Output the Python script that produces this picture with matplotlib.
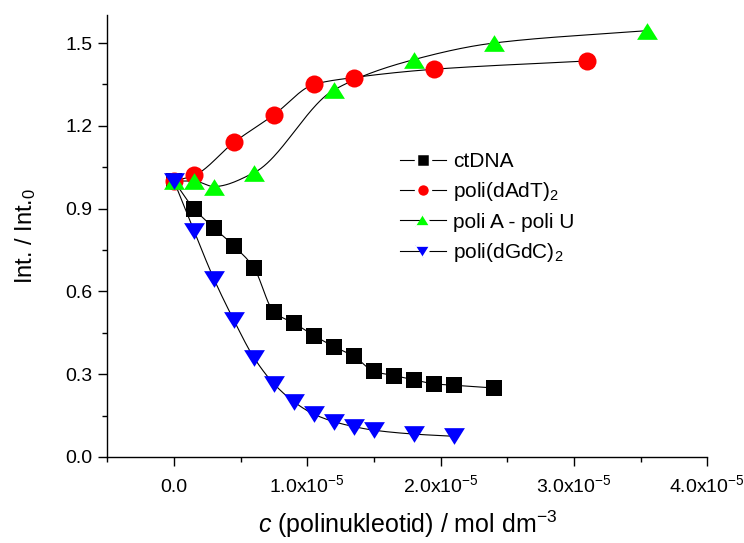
import numpy as np
import matplotlib
matplotlib.use('Agg')
import matplotlib.pyplot as plt
from matplotlib.lines import Line2D
from matplotlib.ticker import MultipleLocator, FuncFormatter

# ---- data (x in 1e-5 mol dm^-3) ----
ct_x = [0.0, 0.15, 0.30, 0.45, 0.60, 0.75, 0.90, 1.05, 1.20, 1.35, 1.50, 1.65, 1.80, 1.95, 2.10, 2.40]
ct_y = [1.00, 0.90, 0.83, 0.765, 0.685, 0.525, 0.485, 0.44, 0.40, 0.365, 0.31, 0.295, 0.28, 0.265, 0.26, 0.25]

at_x = [0.0, 0.15, 0.45, 0.75, 1.05, 1.35, 1.95, 3.10]
at_y = [1.00, 1.02, 1.14, 1.24, 1.35, 1.375, 1.405, 1.435]

au_x = [0.0, 0.15, 0.30, 0.60, 1.20, 1.80, 2.40, 3.55]
au_y = [1.00, 1.00, 0.98, 1.03, 1.33, 1.44, 1.50, 1.545]

gc_x = [0.0, 0.15, 0.30, 0.45, 0.60, 0.75, 0.90, 1.05, 1.20, 1.35, 1.50, 1.80, 2.10]
gc_y = [1.00, 0.82, 0.645, 0.495, 0.36, 0.265, 0.20, 0.155, 0.128, 0.11, 0.097, 0.083, 0.075]

labels = ['ctDNA', r'poli(dAdT)$_2$', 'poli A - poli U', r'poli(dGdC)$_2$']


def pchip(x, y, n=300):
    """Monotone cubic connection line between points (like Origin spline)."""
    x = np.asarray(x, float)
    y = np.asarray(y, float)
    h = np.diff(x)
    d = np.diff(y) / h
    m = np.zeros_like(y)
    for k in range(1, len(x) - 1):
        if d[k - 1] * d[k] > 0:
            w1 = 2 * h[k] + h[k - 1]
            w2 = h[k] + 2 * h[k - 1]
            m[k] = (w1 + w2) / (w1 / d[k - 1] + w2 / d[k])
    m[0] = d[0]
    m[-1] = d[-1]
    xs = np.linspace(x[0], x[-1], n)
    idx = np.clip(np.searchsorted(x, xs) - 1, 0, len(x) - 2)
    t = (xs - x[idx]) / h[idx]
    h00 = 2 * t**3 - 3 * t**2 + 1
    h10 = t**3 - 2 * t**2 + t
    h01 = -2 * t**3 + 3 * t**2
    h11 = t**3 - t**2
    ys = h00 * y[idx] + h10 * h[idx] * m[idx] + h01 * y[idx + 1] + h11 * h[idx] * m[idx + 1]
    return xs, ys


plt.rcParams.update({
    'font.family': 'Liberation Sans',
    'mathtext.fontset': 'custom',
    'mathtext.rm': 'Liberation Sans',
    'mathtext.it': 'Liberation Sans:italic',
    'font.size': 14,
    'axes.linewidth': 1.0,
})

# wide, flat triangles like the Origin symbols
tri_up = [(-1, -0.8), (1, -0.8), (0, 0.8)]
tri_dn = [(-1, 0.8), (1, 0.8), (0, -0.8)]

fig = plt.figure(figsize=(7.44, 5.43), dpi=100)
ax = fig.add_axes([0.1442, 0.1584, 0.8065, 0.8132])

series = [
    (ct_x, ct_y, 's', '#000000', 11.5, 7.0),
    (at_x, at_y, 'o', '#ff0000', 13, 7.5),
    (au_x, au_y, tri_up, '#00ff00', 15, 9.0),
    (gc_x, gc_y, tri_dn, '#0000ff', 15, 9.0),
]

for i, (x, y, mk, col, ms, _) in enumerate(series):
    xs, ys = pchip(x, y)
    ax.plot(xs, ys, color='black', lw=0.8, zorder=1)
    ax.plot(x, y, ls='none', marker=mk, color=col, ms=ms,
            markeredgewidth=0, zorder=2 + i)

ax.set_xlim(-0.5, 4.0)
ax.set_ylim(0.0, 1.6)
ax.spines['top'].set_visible(False)
ax.spines['right'].set_visible(False)

ax.xaxis.set_major_locator(MultipleLocator(1.0))
ax.xaxis.set_minor_locator(MultipleLocator(0.5))
ax.yaxis.set_major_locator(MultipleLocator(0.3))
ax.yaxis.set_minor_locator(MultipleLocator(0.15))
ax.tick_params(which='major', direction='out', length=6.5, width=1.0, labelsize=14)
ax.tick_params(which='minor', direction='out', length=3.5, width=1.0)
ax.tick_params(axis='x', which='major', pad=19)
ax.tick_params(axis='y', which='major', pad=4)


def xfmt(v, pos):
    if abs(v) < 1e-9:
        return '0.0'
    return r'%.1fx10$^{-5}$' % v


ax.xaxis.set_major_formatter(FuncFormatter(xfmt))
ax.yaxis.set_major_formatter(FuncFormatter(lambda v, p: '%.1f' % v))
for lbl in ax.get_xticklabels():
    lbl.set_verticalalignment('baseline')

ax.set_xlabel(r'$c$ (polinukleotid) / mol dm$^{-3}$', fontsize=18, labelpad=9)
ax.set_ylabel(r'Int. / Int.$_0$', fontsize=17, labelpad=20)

handles = [Line2D([], [], color='black', lw=0.8, marker=mk,
                  markerfacecolor=col, markeredgecolor='white',
                  markeredgewidth=2.5, ms=lms + 2.5)
           for (_, _, mk, col, _, lms) in series]
ax.legend(handles, labels, loc='upper left', bbox_to_anchor=(0.537, 0.72),
          bbox_transform=fig.transFigure, frameon=False, fontsize=15,
          handlelength=2.25, handletextpad=0.3, labelspacing=0.45,
          borderaxespad=0, borderpad=0)

fig.savefig('out.png', dpi=100)
